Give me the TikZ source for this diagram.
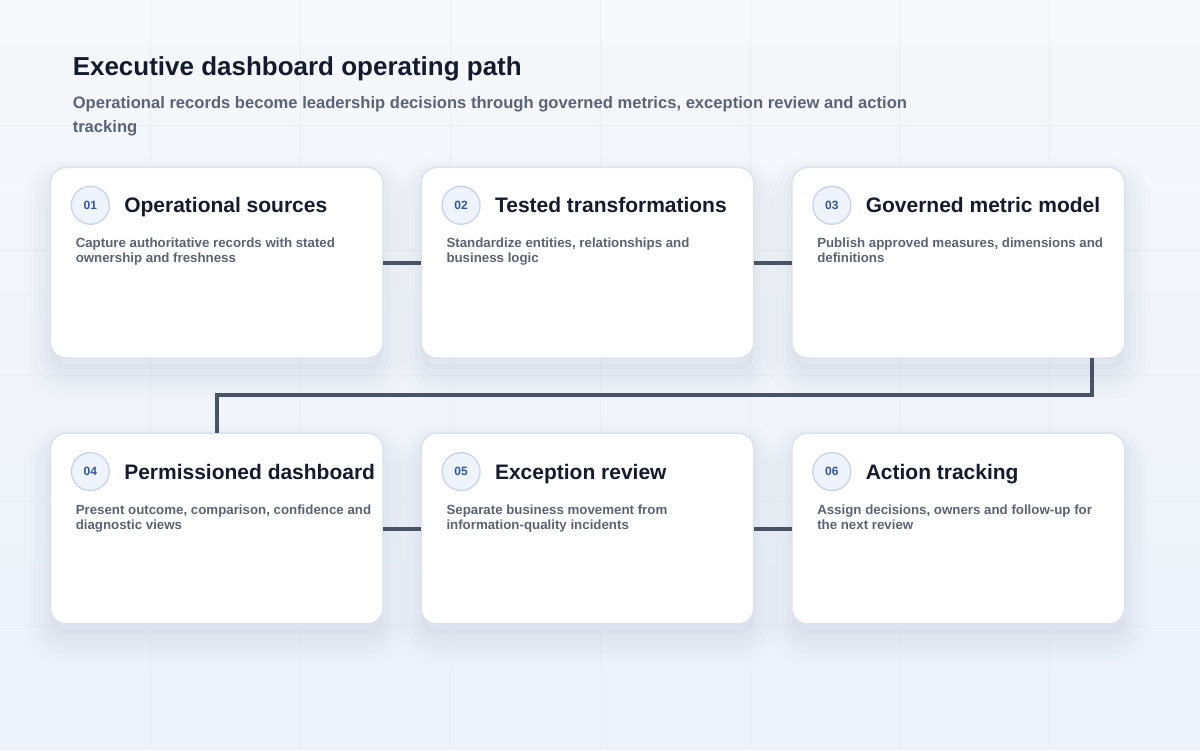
\documentclass[tikz,border=0pt]{standalone}
\usepackage{fontspec}
\setmainfont{Liberation Sans}
\usetikzlibrary{positioning, calc}

\definecolor{pagetop}{HTML}{F6F8FB}
\definecolor{pagebottom}{HTML}{EDF2FB}
\definecolor{gridline}{HTML}{E9EDF4}
\definecolor{titleink}{HTML}{141B2D}
\definecolor{subink}{HTML}{5A6475}
\definecolor{cardedge}{HTML}{DCE2EC}
\definecolor{descink}{HTML}{5B6372}
\definecolor{badgefill}{HTML}{EEF3FC}
\definecolor{badgeedge}{HTML}{C3D1EB}
\definecolor{badgeink}{HTML}{2F56A8}
\definecolor{linkink}{HTML}{485366}
\definecolor{shadowink}{HTML}{8593B3}

\begin{document}
\begin{tikzpicture}[
    x=0.5pt, y=-0.5pt,
    node distance=37.5pt and 19pt,
    card/.style={
        rectangle,
        draw=cardedge,
        line width=0.75pt,
        rounded corners=8pt,
        fill=white,
        minimum width=166.5pt,
        minimum height=95.5pt,
        inner sep=0pt,
        outer sep=0pt,
        preaction={draw=shadowink, line width=26pt, opacity=0.014, transform canvas={yshift=-8pt}},
        preaction={draw=shadowink, line width=21pt, opacity=0.018, transform canvas={yshift=-7.5pt}},
        preaction={draw=shadowink, line width=16pt, opacity=0.022, transform canvas={yshift=-7pt}},
        preaction={draw=shadowink, line width=11pt, opacity=0.026, transform canvas={yshift=-6.5pt}},
        preaction={draw=shadowink, line width=6pt, opacity=0.032, transform canvas={yshift=-6pt}},
        preaction={fill=shadowink, opacity=0.05, transform canvas={yshift=-5.5pt}}
    },
    badge/.style={
        circle,
        draw=badgeedge,
        line width=0.6pt,
        fill=badgefill,
        minimum size=19pt,
        inner sep=0pt,
        text=badgeink,
        font=\bfseries\fontsize{6}{7}\selectfont
    },
    heading/.style={inner sep=0pt, text height=7.6pt, text depth=0pt, text=titleink,
        font=\bfseries\fontsize{10.5}{12}\selectfont},
    blurb/.style={anchor=north west, inner sep=0pt, align=left, text=descink,
        font=\bfseries\fontsize{6.65}{7.5}\selectfont},
    link/.style={draw=linkink, line width=2pt}
]
    % page and grid
    \shade[top color=pagetop, bottom color=pagebottom] (0,0) rectangle (1200,750);
    \foreach \gx in {150,300,...,1050} \draw[gridline, line width=0.4pt] (\gx,0) -- (\gx,750);
    \foreach \gy in {125,250,...,625} \draw[gridline, line width=0.4pt] (0,\gy) -- (1200,\gy);
    \useasboundingbox (0,0) rectangle (1200,750);

    \node[anchor=north west, inner sep=0pt, text=titleink, font=\bfseries\fontsize{13}{15}\selectfont]
        (title) at (72,56) {Executive dashboard operating path};
    \node[anchor=north west, inner sep=0pt, align=left, text=subink, font=\bfseries\fontsize{8.3}{12}\selectfont]
        (subtitle) at (72,96) {Operational records become leadership decisions through governed metrics, exception review and action\\tracking};

    % cards
    \node[card, anchor=north west] (card1) at (50,167) {};
    \node[card, right=of card1] (card2) {};
    \node[card, right=of card2] (card3) {};
    \node[card, below=of card1] (card4) {};
    \node[card, right=of card4] (card5) {};
    \node[card, right=of card5] (card6) {};

    % badges, headings, text
    \node[badge] (num1) at ($(card1.north west)+(40,38)$) {01};
    \node[heading, right=7pt of num1] (head1) {Operational sources};
    \node[blurb] (text1) at ($(card1.north west)+(25,70.5)$) {Capture authoritative records with stated\\ownership and freshness};

    \node[badge] (num2) at ($(card2.north west)+(40,38)$) {02};
    \node[heading, right=7pt of num2] (head2) {Tested transformations};
    \node[blurb] (text2) at ($(card2.north west)+(25,70.5)$) {Standardize entities, relationships and\\business logic};

    \node[badge] (num3) at ($(card3.north west)+(40,38)$) {03};
    \node[heading, right=7pt of num3] (head3) {Governed metric model};
    \node[blurb] (text3) at ($(card3.north west)+(25,70.5)$) {Publish approved measures, dimensions and\\definitions};

    \node[badge] (num4) at ($(card4.north west)+(40,38.5)$) {04};
    \node[heading, right=7pt of num4] (head4) {Permissioned dashboard};
    \node[blurb] (text4) at ($(card4.north west)+(25,71)$) {Present outcome, comparison, confidence and\\diagnostic views};

    \node[badge] (num5) at ($(card5.north west)+(40,38.5)$) {05};
    \node[heading, right=7pt of num5] (head5) {Exception review};
    \node[blurb] (text5) at ($(card5.north west)+(25,71)$) {Separate business movement from\\information-quality incidents};

    \node[badge] (num6) at ($(card6.north west)+(40,38.5)$) {06};
    \node[heading, right=7pt of num6] (head6) {Action tracking};
    \node[blurb] (text6) at ($(card6.north west)+(25,71)$) {Assign decisions, owners and follow-up for\\the next review};

    % connectors
    \draw[link] (card1.east) -- (card2.west);
    \draw[link] (card2.east) -- (card3.west);
    \coordinate (drop) at ($(card3.south east)+(-33,0)$);
    \draw[link] (drop) -- ++(0,37) -| (card4.north);
    \draw[link] (card4.east) -- (card5.west);
    \draw[link] (card5.east) -- (card6.west);
\end{tikzpicture}
\end{document}
